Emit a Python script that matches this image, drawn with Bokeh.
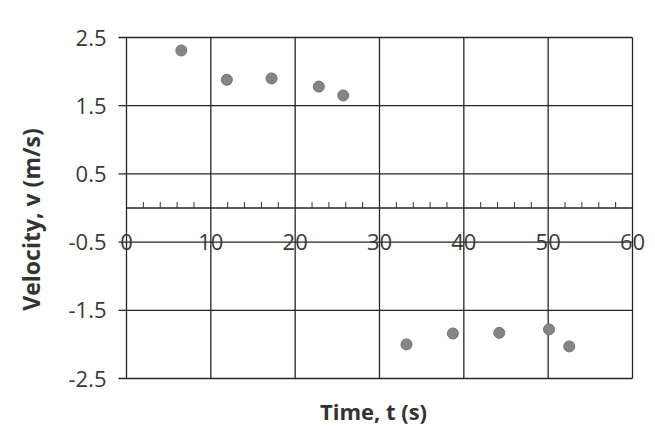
import math
from bokeh.plotting import figure
from bokeh.models import Range1d, ColumnDataSource
from bokeh.core.properties import value
from bokeh.embed import file_html
from bokeh.resources import INLINE

# data
time_s = [6.5, 11.9, 17.2, 22.8, 25.7, 33.2, 38.7, 44.2, 50.1, 52.5]
velocity = [2.31, 1.88, 1.90, 1.78, 1.65, -2.00, -1.84, -1.83, -1.78, -2.03]
y_ticks = [-2.5, -1.5, -0.5, 0.5, 1.5, 2.5]
y_tick_labels = ["-2.5", "-1.5", "-0.5", "0.5", "1.5", "2.5"]
x_ticks = [0, 10, 20, 30, 40, 50, 60]
x_tick_labels = ["0", "10", "20", "30", "40", "50", "60"]
x_minor_ticks = [2, 4, 6, 8, 12, 14, 16, 18, 22, 24, 26, 28, 32, 34, 36, 38,
                 42, 44, 46, 48, 52, 54, 56, 58]
x_min, x_max = 0, 60
y_min, y_max = -2.5, 2.5
x_title = "Time, t (s)"
y_title = "Velocity, v (m/s)"

# layout (pixels inside the figure)
W, H = 647, 428
L, R, T, B = 126, 632, 37, 378
FONT = "Open Sans"
LINE = "#262626"
TXT = "#3a3a3a"

px_x = (R - L) / (x_max - x_min)
px_y = (B - T) / (y_max - y_min)
xr = Range1d(x_min - L / px_x, x_max + (W - R) / px_x)
yr = Range1d(y_min - (H - B) / px_y, y_max + T / px_y)

p = figure(width=W, height=H, output_backend="svg", toolbar_location=None,
           x_range=xr, y_range=yr, x_axis_location=None, y_axis_location=None,
           min_border=0)
p.min_border_left = p.min_border_right = p.min_border_top = p.min_border_bottom = 0
p.outline_line_color = None
p.background_fill_color = "white"
p.border_fill_color = "white"
p.grid.visible = False

# grid lines (they also form the plot frame); horizontal ones stick out left as y ticks
nx, ny = len(x_ticks), len(y_ticks)
p.segment(x0=x_ticks, y0=[y_min] * nx, x1=x_ticks, y1=[y_max] * nx,
          line_color=LINE, line_width=1.3)
p.segment(x0=[x_min - 8 / px_x] * ny, y0=y_ticks, x1=[x_max] * ny, y1=y_ticks,
          line_color=LINE, line_width=1.3)

# x axis line at zero with small upward minor ticks
p.line([x_min, x_max], [0, 0], line_color=LINE, line_width=1.3)
nm = len(x_minor_ticks)
p.segment(x0=x_minor_ticks, y0=[0] * nm, x1=x_minor_ticks, y1=[6 / px_y] * nm,
          line_color="#333333", line_width=1)

# tick labels
p.text(x=[x_min - 20 / px_x] * ny, y=y_ticks, text=y_tick_labels,
       text_align="right", text_baseline="middle", text_font=value(FONT),
       text_font_size=value("22px"), text_color=TXT)
p.text(x=x_ticks, y=[-34 / px_y] * nx, text=x_tick_labels,
       text_align="center", text_baseline="middle", text_font=value(FONT),
       text_font_size=value("22px"), text_color=TXT)

# axis titles
p.text(x=[x_min + (373 - L) / px_x], y=[y_min - (410 - B) / px_y], text=[x_title],
       text_align="center", text_baseline="middle", text_font=value(FONT),
       text_font_size=value("22px"), text_font_style="bold", text_color="#333333")
p.text(x=[x_min - (L - 30) / px_x], y=[y_max - (219 - T) / px_y], text=[y_title],
       angle=math.pi / 2, text_align="center", text_baseline="middle", text_font=value(FONT),
       text_font_size=value("23px"), text_font_style="bold", text_color="#333333")

# data points
src = ColumnDataSource(dict(t=time_s, v=velocity))
p.scatter("t", "v", source=src, size=11, fill_color="#858585", line_color="#707070", line_width=1)

open("out.html", "w").write(file_html(p, INLINE))
